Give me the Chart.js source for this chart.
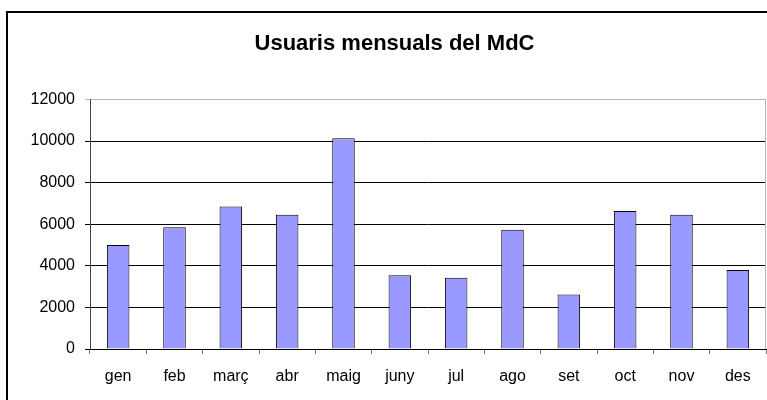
<!DOCTYPE html>
<html>
<head>
<meta charset="utf-8">
<script src="https://cdn.jsdelivr.net/npm/chart.js@4.4.1/dist/chart.umd.min.js"></script>
<style>
  html, body { margin: 0; padding: 0; background: #fff; overflow: hidden; }
  #wrap { position: relative; width: 767px; height: 400px; }
  #marco {
    position: absolute; left: 6px; top: 11px; width: 800px; height: 500px;
    border: 2px solid #000; pointer-events: none;
  }
</style>
</head>
<body>
<div id="wrap">
  <canvas id="usuarisChart" width="767" height="400"></canvas>
  <div id="marco"></div>
</div>
<script>
const mesos = ['gen', 'feb', 'març', 'abr', 'maig', 'juny', 'jul', 'ago', 'set', 'oct', 'nov', 'des'];
const usuaris = [5000, 5850, 6850, 6450, 10130, 3550, 3420, 5730, 2620, 6640, 6450, 3800];
const yMin = 0;
const yMax = 12000;
const yStep = 2000;

const fontFamily = 'Liberation Sans, Arial, sans-serif';

// vora gris a la dreta de l'area del grafic
const voraDreta = {
  id: 'voraDreta',
  afterDraw(chart) {
    const { ctx, chartArea } = chart;
    ctx.save();
    ctx.strokeStyle = '#b4b4b4';
    ctx.lineWidth = 1;
    ctx.beginPath();
    ctx.moveTo(chartArea.right - 0.5, chartArea.top);
    ctx.lineTo(chartArea.right - 0.5, chartArea.bottom);
    ctx.stroke();
    ctx.restore();
  }
};

function createUsuarisChart() {
  const ctx = document.getElementById('usuarisChart').getContext('2d');

  new Chart(ctx, {
    type: 'bar',
    data: {
      labels: mesos,
      datasets: [{
        label: 'Usuaris',
        data: usuaris,
        backgroundColor: '#9999FF',
        borderColor: '#000',
        borderWidth: 1,
        barPercentage: 0.4,
        categoryPercentage: 1
      }]
    },
    options: {
      responsive: false,
      animation: false,
      layout: {
        padding: { top: 0, right: 1, bottom: 0, left: 23 }
      },
      plugins: {
        legend: { display: false },
        tooltip: { enabled: false },
        title: {
          display: true,
          text: 'Usuaris mensuals del MdC',
          color: '#000',
          font: { family: fontFamily, size: 22, weight: 'bold' },
          padding: { top: 31, bottom: 42 }
        }
      },
      scales: {
        x: {
          grid: {
            drawOnChartArea: false,
            tickLength: 5,
            color: '#777'
          },
          border: { color: '#000', width: 1 },
          ticks: {
            color: '#000',
            padding: 13,
            font: { family: fontFamily, size: 16 }
          },
          afterFit(scale) { scale.height = 51; }
        },
        y: {
          min: yMin,
          max: yMax,
          grid: {
            tickLength: 5,
            color: (c) => (c.tick && c.tick.value === yMax ? '#b4b4b4' : '#000')
          },
          border: { color: '#444', width: 1 },
          ticks: {
            stepSize: yStep,
            color: '#000',
            padding: 10,
            font: { family: fontFamily, size: 16 },
            callback: function(value) { return String(value); }
          },
          afterFit(scale) { scale.width = 67; }
        }
      }
    },
    plugins: [voraDreta]
  });
}

document.addEventListener('DOMContentLoaded', () => {
  createUsuarisChart();
});
</script>
</body>
</html>
